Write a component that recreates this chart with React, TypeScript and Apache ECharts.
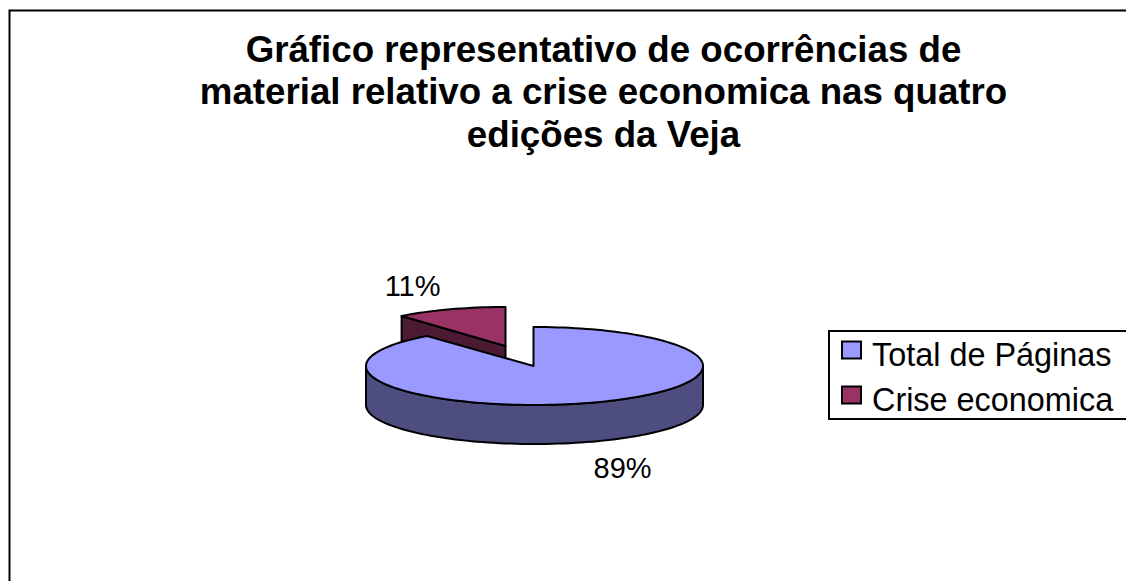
import React, { useEffect, useRef } from "react";
import * as echarts from "echarts";

const titleLines = [
  "Gráfico representativo de ocorrências de",
  "material relativo a crise economica nas quatro",
  "edições da Veja",
];
const categories = ["Total de Páginas", "Crise economica"];
const shares = [89, 11];
const topColors = ["#9999FF", "#993366"];
const wallColors = ["#4D4D80", "#4D1A33"];

const CX = 534.5, CY = 366, RX = 168.5, RY = 39, DEPTH = 39;
const SLICE_CX = 505.5, SLICE_CY = 346, SLICE_RX = 163;
const FONT = "Liberation Sans";

function pt(cx: number, cy: number, deg: number, rx = RX) {
  const a = (deg * Math.PI) / 180;
  return [cx + rx * Math.sin(a), cy - RY * Math.cos(a)];
}
function arc(cx: number, cy: number, from: number, to: number, rx = RX) {
  const out: number[][] = [];
  const n = Math.max(2, Math.ceil(Math.abs(to - from) / 2));
  for (let i = 0; i <= n; i++) out.push(pt(cx, cy, from + ((to - from) * i) / n, rx));
  return out;
}
const stroke = { stroke: "#000", lineWidth: 2, lineJoin: "round" as const };

function renderMain(_: any, api: any) {
  const total = shares[0] + shares[1];
  const sweep = (api.value(0) / total) * 360;
  const front = arc(CX, CY, 90, 270);
  const wall = [...front, ...front.slice().reverse().map((p) => [p[0], p[1] + DEPTH])];
  const top = [[CX - 1, CY], ...arc(CX - 1, CY, 0, sweep).map((p, i) => (i === 0 ? p : [p[0] + 1, p[1]]))];
  const labelPos = pt(CX, CY, sweep / 2);
  return {
    type: "group",
    silent: true,
    children: [
      { type: "polygon", shape: { points: wall }, style: { fill: wallColors[0], ...stroke } },
      { type: "polygon", shape: { points: top }, style: { fill: topColors[0], ...stroke } },
      {
        type: "text",
        style: {
          text: `${Math.round((api.value(0) / total) * 100)}%`,
          x: labelPos[0] + 31,
          y: labelPos[1] + 65,
          align: "center",
          verticalAlign: "middle",
          fill: "#000",
          font: `29px "${FONT}"`,
        },
      },
    ],
  };
}

function renderSlice(_: any, api: any) {
  const total = shares[0] + shares[1];
  const sweep = (api.value(0) / total) * 360;
  const cx = SLICE_CX, cy = SLICE_CY;
  const p = pt(cx, cy, 360 - sweep, SLICE_RX);
  const top = [[cx, cy], ...arc(cx, cy, 360 - sweep, 360, SLICE_RX)];
  const wall = [[cx, cy], p, [p[0], p[1] + DEPTH], [cx, cy + DEPTH]];
  return {
    type: "group",
    silent: true,
    children: [
      { type: "polygon", shape: { points: wall }, style: { fill: wallColors[1], ...stroke } },
      { type: "polygon", shape: { points: top }, style: { fill: topColors[1], ...stroke } },
      {
        type: "text",
        style: {
          text: `${Math.round((api.value(0) / total) * 100)}%`,
          x: p[0] + 11,
          y: p[1] - 30,
          align: "center",
          verticalAlign: "middle",
          fill: "#000",
          font: `29px "${FONT}"`,
        },
      },
    ],
  };
}

export default function App() {
  const ref = useRef<HTMLDivElement>(null);
  useEffect(() => {
    document.body.style.margin = "0";
    const chart = echarts.init(ref.current!, null, { renderer: "svg" });
    chart.setOption({
      animation: false,
      backgroundColor: "#fff",
      title: {
        text: titleLines.join("\n"),
        left: 598.5,
        top: 23,
        textAlign: "center",
        textStyle: {
          fontFamily: FONT,
          fontWeight: "bold",
          fontSize: 36.7,
          lineHeight: 42.5,
          color: "#000",
        },
      },
      legend: {
        data: categories,
        orient: "vertical",
        left: 829,
        top: 331,
        padding: [8, 40, 3, 12],
        itemWidth: 19,
        itemHeight: 27,
        itemGap: 13,
        borderColor: "#000",
        borderWidth: 2,
        icon: "path://M0 0H19V17H0Z M0 27L0 27",
        selectedMode: false,
        textStyle: { fontFamily: FONT, fontSize: 32.4, color: "#000", padding: [0, 0, 0, 6] },
      },
      graphic: [
        {
          type: "polyline",
          silent: true,
          shape: { points: [[9.5, 600], [9.5, 10.5], [1140, 10.5]] },
          style: { stroke: "#000", lineWidth: 2, fill: "none" },
        },
      ],
      series: [
        {
          type: "custom",
          name: categories[1],
          coordinateSystem: "none",
          z: 2,
          renderItem: renderSlice,
          data: [shares[1]],
          itemStyle: { color: topColors[1], borderColor: "#000", borderWidth: 2 },
        },
        {
          type: "custom",
          name: categories[0],
          coordinateSystem: "none",
          z: 3,
          renderItem: renderMain,
          data: [shares[0]],
          itemStyle: { color: topColors[0], borderColor: "#000", borderWidth: 2 },
        },
      ],
    });
    return () => chart.dispose();
  }, []);
  return <div ref={ref} style={{ width: 1126, height: 581 }} />;
}
